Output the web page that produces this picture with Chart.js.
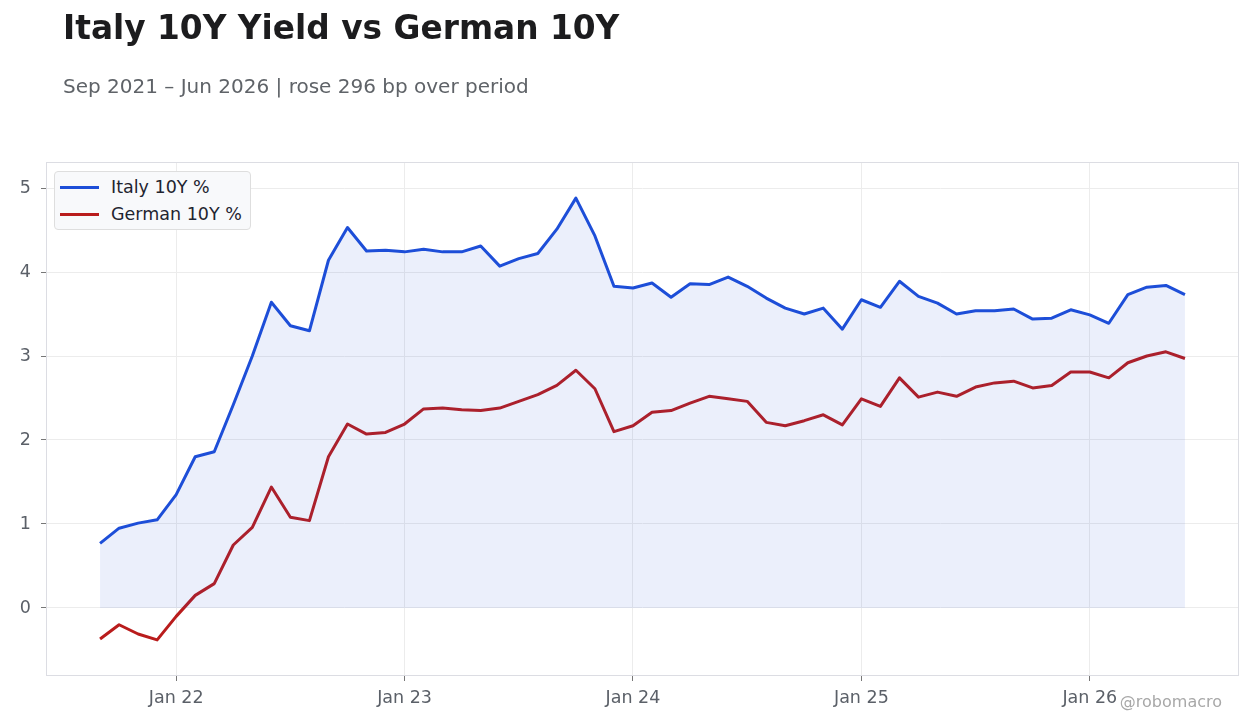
<!DOCTYPE html>
<html>
<head>
<meta charset="utf-8">
<script src="https://cdn.jsdelivr.net/npm/chart.js@4.4.1/dist/chart.umd.min.js"></script>
<style>
    html, body { margin: 0; padding: 0; background: #ffffff; }
    body { width: 1260px; height: 728px; position: relative; overflow: hidden; font-family: "DejaVu Sans", sans-serif; }
    #title { position: absolute; left: 63px; top: 12px; font-size: 32.8px; line-height: 33px; font-weight: bold; color: #1c1c1e; white-space: nowrap; }
    #subtitle { position: absolute; left: 63px; top: 76px; font-size: 20px; line-height: 20px; color: #5f6368; white-space: nowrap; }
    #wrap { position: absolute; left: 0; top: 0; width: 1260px; height: 728px; }
    #legend { position: absolute; left: 54px; top: 171px; width: 195px; height: 57px; background: #f8f9fb; border: 1px solid #dedede; border-radius: 4px; }
    #legend .item { position: absolute; left: 5px; height: 20px; font-size: 17.5px; line-height: 20px; color: #1f2430; white-space: nowrap; }
    #legend .swatch { display: inline-block; width: 39px; height: 3px; vertical-align: middle; margin-right: 12px; position: relative; top: -1px; }
    #mark { position: absolute; right: 38px; top: 693px; font-size: 16px; line-height: 18px; color: #a8a8a8; }
</style>
</head>
<body>
<div id="wrap"><canvas id="myChart"></canvas></div>
<div id="title">Italy 10Y Yield vs German 10Y</div>
<div id="subtitle">Sep 2021 – Jun 2026 | rose 296 bp over period</div>
<div id="legend"></div>
<div id="mark">@robomacro</div>
<script>
// monthly observations
var months = [
    "2021-09", "2021-10", "2021-11", "2021-12",
    "2022-01", "2022-02", "2022-03", "2022-04", "2022-05", "2022-06",
    "2022-07", "2022-08", "2022-09", "2022-10", "2022-11", "2022-12",
    "2023-01", "2023-02", "2023-03", "2023-04", "2023-05", "2023-06",
    "2023-07", "2023-08", "2023-09", "2023-10", "2023-11", "2023-12",
    "2024-01", "2024-02", "2024-03", "2024-04", "2024-05", "2024-06",
    "2024-07", "2024-08", "2024-09", "2024-10", "2024-11", "2024-12",
    "2025-01", "2025-02", "2025-03", "2025-04", "2025-05", "2025-06",
    "2025-07", "2025-08", "2025-09", "2025-10", "2025-11", "2025-12",
    "2026-01", "2026-02", "2026-03", "2026-04", "2026-05", "2026-06",
];

var italy = [
    0.77, 0.95, 1.01, 1.05,
    1.35, 1.80, 1.86, 2.42, 3.00, 3.64, 3.36, 3.30, 4.14, 4.53, 4.25, 4.26,
    4.24, 4.27, 4.24, 4.24, 4.31, 4.07, 4.16, 4.22, 4.51, 4.88, 4.43, 3.83,
    3.81, 3.87, 3.70, 3.86, 3.85, 3.94, 3.83, 3.69, 3.57, 3.50, 3.57, 3.32,
    3.67, 3.58, 3.89, 3.71, 3.63, 3.50, 3.54, 3.54, 3.56, 3.44, 3.45, 3.55,
    3.49, 3.39, 3.73, 3.82, 3.84, 3.73,
];

var german = [
    -0.37, -0.20, -0.31, -0.38,
    -0.10, 0.15, 0.29, 0.75, 0.96, 1.44, 1.08, 1.04, 1.80, 2.19, 2.07, 2.09,
    2.19, 2.37, 2.38, 2.36, 2.35, 2.38, 2.46, 2.54, 2.65, 2.83, 2.61, 2.10,
    2.17, 2.33, 2.35, 2.44, 2.52, 2.49, 2.46, 2.21, 2.17, 2.23, 2.30, 2.18,
    2.49, 2.40, 2.74, 2.51, 2.57, 2.52, 2.63, 2.68, 2.70, 2.62, 2.65, 2.81,
    2.81, 2.74, 2.92, 3.00, 3.05, 2.97,
];

var tickMonths = ["2022-01", "2023-01", "2024-01", "2025-01", "2026-01"];
var tickLabels = ["Jan 22", "Jan 23", "Jan 24", "Jan 25", "Jan 26"];
var yTicks = [0, 1, 2, 3, 4, 5];

var blue = "#1d4ed8";
var red = "#b91c1c";
var gridColor = "#ececec";
var textGrey = "#5b6068";

let toPoints = (values) => values.map((v, i) => ({ x: i, y: v }));

// border round the whole plot area
let frame = {
    id: "frame",
    beforeDatasetsDraw(chart) {
        var a = chart.chartArea;
        var ctx = chart.ctx;
        ctx.save();
        ctx.strokeStyle = "#dcdde3";
        ctx.lineWidth = 1;
        ctx.strokeRect(a.left + 0.5, a.top + 0.5, a.width - 1, a.height - 1);
        ctx.restore();
    },
};

Chart.defaults.font.family = "'DejaVu Sans', sans-serif";
Chart.defaults.font.size = 17.5;
Chart.defaults.color = textGrey;

var ctx = document.getElementById("myChart").getContext("2d");
var myChart = new Chart(ctx, {
    type: "line",
    data: {
        datasets: [
            {
                label: "Italy 10Y %",
                data: toPoints(italy),
                borderColor: blue,
                backgroundColor: "rgba(29, 78, 216, 0.09)",
                fill: "origin",
                borderWidth: 3,
                pointRadius: 0,
                tension: 0,
                borderJoinStyle: "round",
            },
            {
                label: "German 10Y %",
                data: toPoints(german),
                borderColor: red,
                backgroundColor: red,
                fill: false,
                borderWidth: 3,
                pointRadius: 0,
                tension: 0,
                borderJoinStyle: "round",
            },
        ],
    },
    options: {
        responsive: true,
        maintainAspectRatio: false,
        animation: false,
        layout: {
            padding: { left: 0, right: 21, top: 162, bottom: 0 },
        },
        plugins: {
            legend: { display: false },
            tooltip: { enabled: false },
        },
        scales: {
            x: {
                type: "linear",
                min: -2.84,
                max: 59.84,
                afterFit: (scale) => {
                    scale.height = 52;
                },
                afterBuildTicks: (scale) => {
                    scale.ticks = tickMonths.map((m) => ({ value: months.indexOf(m) }));
                },
                ticks: {
                    includeBounds: false,
                    padding: 7,
                    color: textGrey,
                    maxRotation: 0,
                    callback: (value) => tickLabels[tickMonths.indexOf(months[value])],
                },
                grid: {
                    color: gridColor,
                    tickColor: "#777777",
                    tickLength: 5,
                },
                border: { display: false },
            },
            y: {
                type: "linear",
                min: -0.81,
                max: 5.31,
                afterFit: (scale) => {
                    scale.width = 46;
                },
                afterBuildTicks: (scale) => {
                    scale.ticks = yTicks.map((v) => ({ value: v }));
                },
                ticks: {
                    includeBounds: false,
                    padding: 10,
                    color: textGrey,
                },
                grid: {
                    color: gridColor,
                    tickColor: "#777777",
                    tickLength: 5,
                },
                border: { display: false },
            },
        },
    },
    plugins: [frame],
});

// legend box drawn in the upper left of the plot, from the datasets
var legendEl = document.getElementById("legend");
myChart.data.datasets.forEach((ds, i) => {
    var row = document.createElement("div");
    row.className = "item";
    row.style.top = 5 + i * 27 + "px";
    var sw = document.createElement("span");
    sw.className = "swatch";
    sw.style.background = ds.borderColor;
    row.appendChild(sw);
    row.appendChild(document.createTextNode(ds.label));
    legendEl.appendChild(row);
});
</script>
</body>
</html>
